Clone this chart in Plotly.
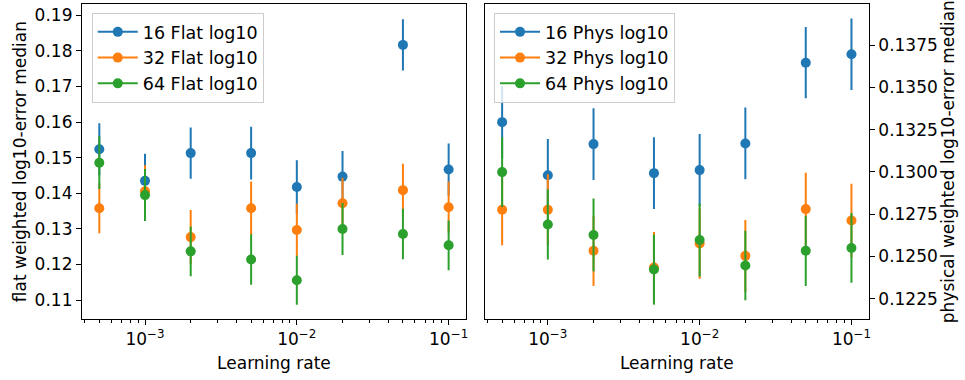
import plotly.graph_objects as go

lr = [5e-4, 1e-3, 2e-3, 5e-3, 1e-2, 2e-2, 5e-2, 1e-1]

flat16 = [0.1524, 0.1435, 0.1513, 0.1513, 0.1418, 0.1447, 0.1817, 0.1467]
flat16_err = [0.0073, 0.0076, 0.0072, 0.0074, 0.0075, 0.0072, 0.0072, 0.0073]
flat32 = [0.1358, 0.1406, 0.1277, 0.1358, 0.1297, 0.1372, 0.1409, 0.1361]
flat32_err = [0.0070, 0.0073, 0.0076, 0.0075, 0.0074, 0.0072, 0.0074, 0.0072]
flat64 = [0.1486, 0.1395, 0.1237, 0.1214, 0.1156, 0.1300, 0.1286, 0.1254]
flat64_err = [0.0074, 0.0073, 0.0070, 0.0071, 0.0069, 0.0073, 0.0071, 0.0070]

phys16 = [0.13295, 0.12981, 0.13165, 0.12993, 0.13011, 0.13169, 0.13647, 0.13697]
phys16_err = [0.00214, 0.00214, 0.00213, 0.00212, 0.00214, 0.00212, 0.00211, 0.00212]
phys32 = [0.12776, 0.12776, 0.12533, 0.12434, 0.12576, 0.12503, 0.12780, 0.12712]
phys32_err = [0.00210, 0.00210, 0.00208, 0.00211, 0.00209, 0.00213, 0.00215, 0.00218]
phys64 = [0.12999, 0.12689, 0.12627, 0.12422, 0.12597, 0.12446, 0.12533, 0.12550]
phys64_err = [0.00206, 0.00208, 0.00216, 0.00208, 0.00216, 0.00206, 0.00208, 0.00207]

flat_names = ["16 Flat log10", "32 Flat log10", "64 Flat log10"]
phys_names = ["16 Phys log10", "32 Phys log10", "64 Phys log10"]
colors = ["#1f77b4", "#ff7f0e", "#2ca02c"]

major_ticks = [1e-3, 1e-2, 1e-1]
major_text = ["10<sup>−3</sup>", "10<sup>−2</sup>", "10<sup>−1</sup>"]
minor_ticks = [m * d for d in [1e-4, 1e-3, 1e-2] for m in range(2, 10)]

FONT = "DejaVu Sans"
FS = 17
fig = go.Figure()

flat_series = [(flat16, flat16_err), (flat32, flat32_err), (flat64, flat64_err)]
phys_series = [(phys16, phys16_err), (phys32, phys32_err), (phys64, phys64_err)]

for (vals, errs), name, c in zip(flat_series, flat_names, colors):
    fig.add_trace(go.Scatter(
        x=lr, y=vals, mode="markers", xaxis="x", yaxis="y", showlegend=False,
        marker=dict(color=c, size=10),
        error_y=dict(type="data", array=errs, visible=True, color=c, thickness=2, width=0)))
for (vals, errs), name, c in zip(phys_series, phys_names, colors):
    fig.add_trace(go.Scatter(
        x=lr, y=vals, mode="markers", xaxis="x2", yaxis="y2", showlegend=False,
        marker=dict(color=c, size=10),
        error_y=dict(type="data", array=errs, visible=True, color=c, thickness=2, width=0)))

# legend entries (matplotlib style: line + marker)
for name, c in zip(flat_names, colors):
    fig.add_trace(go.Scatter(x=[None], y=[None], mode="lines+markers", name=name,
                             xaxis="x", yaxis="y", legend="legend",
                             line=dict(color=c, width=2), marker=dict(color=c, size=10)))
for name, c in zip(phys_names, colors):
    fig.add_trace(go.Scatter(x=[None], y=[None], mode="lines+markers", name=name,
                             xaxis="x2", yaxis="y2", legend="legend2",
                             line=dict(color=c, width=2), marker=dict(color=c, size=10)))

xcommon = dict(type="log", range=[-3.416, -0.885], showline=True, mirror=True,
               linecolor="black", linewidth=1, ticks="outside", ticklen=5, tickwidth=1,
               tickcolor="black", showgrid=False, zeroline=False,
               tickmode="array", tickvals=major_ticks, ticktext=major_text,
               tickfont=dict(size=FS, color="black", family=FONT),
               minor=dict(tickmode="array", tickvals=minor_ticks, ticks="outside",
                          ticklen=3, tickwidth=1, tickcolor="black", showgrid=False),
               title=dict(text="Learning rate", font=dict(size=FS, color="black", family=FONT),
                          standoff=8))

ycommon = dict(showline=True, mirror=True, linecolor="black", linewidth=1,
               ticks="outside", ticklen=5, tickwidth=1, tickcolor="black",
               showgrid=False, zeroline=False,
               tickfont=dict(size=FS, color="black", family=FONT))

legcommon = dict(xanchor="left", yanchor="top", y=0.9658,
                 bgcolor="rgba(255,255,255,0.8)", bordercolor="#cccccc", borderwidth=1,
                 font=dict(size=FS + 0.5, color="black", family=FONT), itemwidth=40,
                 tracegroupgap=0)

fig.update_layout(
    width=965, height=380,
    margin=dict(l=0, r=0, t=0, b=0),
    paper_bgcolor="white", plot_bgcolor="white",
    font=dict(family=FONT, color="black"),
    xaxis=dict(domain=[0.085, 0.484], anchor="y", **xcommon),
    xaxis2=dict(domain=[0.5033, 0.9023], anchor="y2", **xcommon),
    yaxis=dict(domain=[0.1605, 0.9887], anchor="x", range=[0.1047, 0.1931],
               dtick=0.01, tick0=0.1, tickformat=".2f",
               title=dict(text="flat weighted log10-error median",
                          font=dict(size=FS, color="black", family=FONT), standoff=3),
               **ycommon),
    yaxis2=dict(domain=[0.1605, 0.9887], anchor="x2", side="right",
                range=[0.12129, 0.13993], dtick=0.0025, tick0=0.12, tickformat=".4f",
                title=dict(text="physical weighted log10-error median",
                           font=dict(size=FS, color="black", family=FONT), standoff=3),
                **ycommon),
    legend=dict(x=0.0953, **legcommon),
    legend2=dict(x=0.513, **legcommon),
)

fig.write_html("out.html")
